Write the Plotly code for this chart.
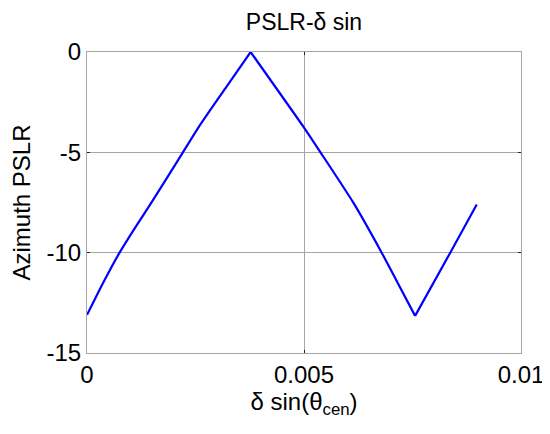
import plotly.graph_objects as go

# delta sin(theta_cen) values and azimuth PSLR
delta_sin = [0.0, 0.00037, 0.00075, 0.00111, 0.00148, 0.00221, 0.00261, 0.00322, 0.00377,
             0.00500, 0.00538, 0.00614, 0.00679, 0.00716, 0.00756, 0.00837, 0.00898]
pslr = [-13.1, -11.51, -10.0, -8.75, -7.52, -5.0, -3.62, -1.71, 0.0,
        -3.77, -5.0, -7.52, -10.0, -11.51, -13.15, -10.0, -7.6]

x_ticks = [0, 0.005, 0.01]
x_tick_text = ["0", "0.005", "0.01"]
y_ticks = [0, -5, -10, -15]
y_tick_text = ["0", "-5", "-10", "-15"]

font = "Liberation Sans, Arial, Helvetica, sans-serif"

# split at the peak and the trough so the corners stay sharp
peak = pslr.index(max(pslr))
trough = pslr.index(min(pslr))
segments = [(0, peak + 1), (peak, trough + 1), (trough, len(pslr))]

fig = go.Figure()
for a, b in segments:
    fig.add_trace(go.Scatter(x=delta_sin[a:b], y=pslr[a:b], mode="lines",
                             line=dict(color="#0000ff", width=2.2, shape="spline", smoothing=0.6),
                             showlegend=False))

axis_style = dict(showline=True, linecolor="#a6a6a6", linewidth=1, mirror="allticks",
                  showgrid=True, gridcolor="#a6a6a6", gridwidth=1,
                  ticks="inside", ticklen=3, tickcolor="#222", tickwidth=1,
                  zeroline=False, tickfont=dict(size=24, color="black", family=font))

fig.update_xaxes(range=[0, 0.01], tickvals=x_ticks, ticktext=x_tick_text,
                 title=dict(text="δ sin(θ<sub>cen</sub>)", font=dict(size=24, color="black", family=font),
                            standoff=4),
                 **axis_style)
fig.update_yaxes(range=[-15, 0], tickvals=y_ticks, ticktext=y_tick_text,
                 title=dict(text="Azimuth PSLR", font=dict(size=24, color="black", family=font),
                            standoff=12),
                 **axis_style)

# the page adds an 8px body margin, so the figure is 8px smaller than the window
fig.update_layout(
    width=542, height=426,
    margin=dict(l=79, r=29, t=44, b=81, autoexpand=False),
    paper_bgcolor="white", plot_bgcolor="white",
    title=dict(text="PSLR-δ sin", x=(304 - 8) / 542, xanchor="center",
               y=1 - 14 / 426, yanchor="middle",
               font=dict(size=23, color="black", family=font)),
)

fig.write_html("out.html")
